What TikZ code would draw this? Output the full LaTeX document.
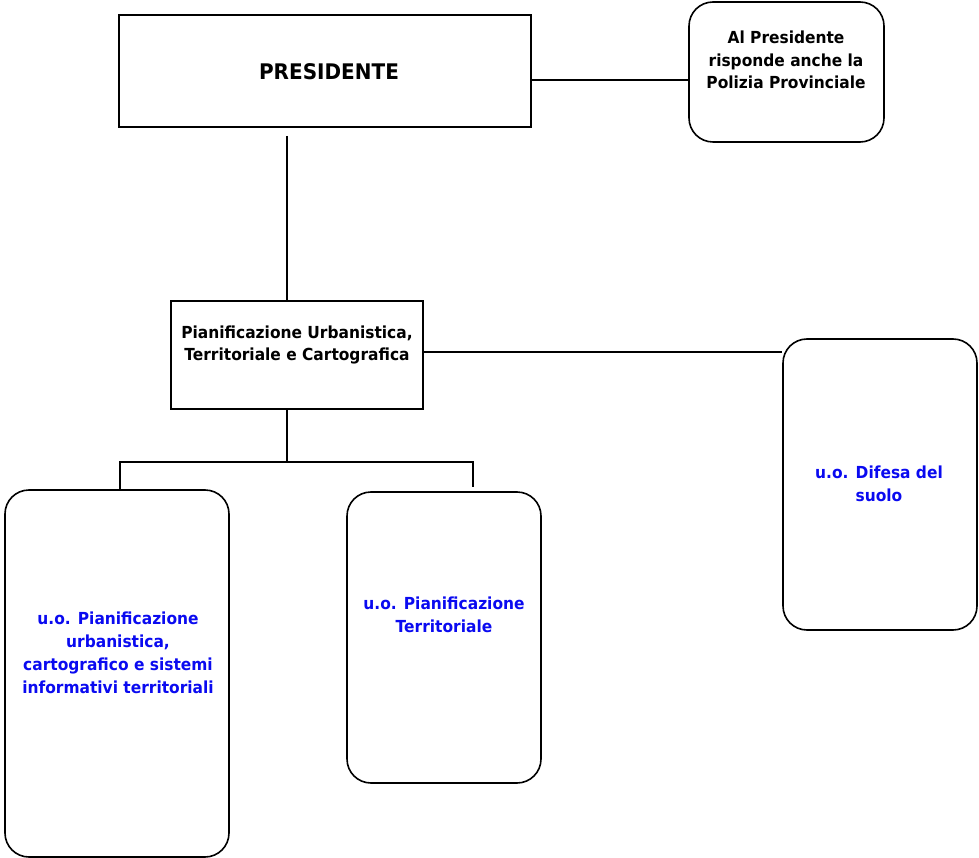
\documentclass[tikz,border=0pt]{standalone}
\usepackage{fontspec}
\setmainfont{DejaVu Sans}
\newfontfamily\lblfont{DejaVu Sans}[FakeStretch=0.93]
\definecolor{unitblue}{RGB}{10,10,240}
\begin{document}
\begin{tikzpicture}[x=1pt,y=-1pt, line width=1.6pt,
  box/.style={draw, line width=1.6pt, inner sep=0pt},
  rbox/.style={box, rounded corners=24pt},
  lbl/.style={font=\lblfont\bfseries\fontsize{16.6}{22.8}\selectfont, align=center, inner sep=0pt},
  blu/.style={lbl, text=unitblue}]
\useasboundingbox (0,0) rectangle (979,858);
% boxes
\node[box, minimum width=412pt, minimum height=112pt] (pres) at (325,71) {};
\node[rbox, minimum width=195pt, minimum height=140pt] (al) at (786.5,72) {};
\node[box, minimum width=252pt, minimum height=108pt] (pian) at (297,355) {};
\node[rbox, minimum width=224pt, minimum height=367pt] (left) at (117,673.5) {};
\node[rbox, minimum width=194pt, minimum height=291pt] (mid) at (444,637.5) {};
\node[rbox, minimum width=194pt, minimum height=291pt] (dif) at (880,484.5) {};
% texts
\node[lbl, font=\lblfont\bfseries\fontsize{21.5}{24}\selectfont] (presT) at (329,72) {PRESIDENTE};
\node[lbl] (alT) at (786,60) {Al Presidente\\risponde anche la\\Polizia Provinciale};
\node[lbl] (pianT) at (297,345) {Pianificazione Urbanistica,\\Territoriale e Cartografica};
\node[blu] (leftT) at (118,653) {u.o. Pianificazione\\urbanistica,\\cartografico e sistemi\\informativi territoriali};
\node[blu] (midT) at (444,615) {u.o. Pianificazione\\Territoriale};
\node[blu] (difT) at (879,484) {u.o. Difesa del\\suolo};
% connectors
\draw ([yshift=-9pt]pres.east) -- ([yshift=-9pt]pres.east -| al.west);
\draw ([xshift=-38pt,yshift=-8pt]pres.south) -- ([xshift=-38pt]pres.south |- pian.north);
\draw ([yshift=3pt]pian.east) -- ([yshift=3pt]pian.east -| dif.west);
\draw ([xshift=-10pt]pian.south) -- ++(0,52) coordinate (j);
\draw ([xshift=3pt]left.north) |- (j) -| ([xshift=29pt,yshift=4pt]mid.north);
\end{tikzpicture}
\end{document}
